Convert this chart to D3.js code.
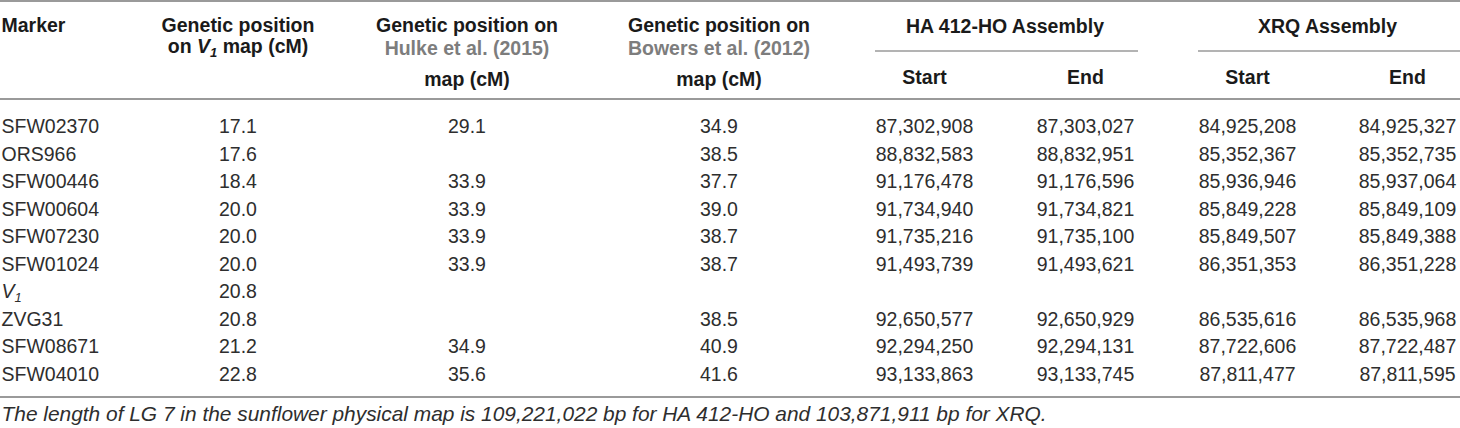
<!DOCTYPE html>
<html>
<head>
<meta charset="utf-8">
<script src="https://cdn.jsdelivr.net/npm/d3@7"></script>
<style>
  html, body { margin: 0; padding: 0; background: #ffffff; }
  svg { display: block; }
  text { font-family: "Liberation Sans", Arial, Helvetica, sans-serif; }
</style>
</head>
<body>
<svg id="chart" width="1460" height="428"></svg>
<script>
// ---- data ----
const markers   = ["SFW02370", "ORS966", "SFW00446", "SFW00604", "SFW07230", "SFW01024", "V1", "ZVG31", "SFW08671", "SFW04010"];
const v1Pos     = [17.1, 17.6, 18.4, 20.0, 20.0, 20.0, 20.8, 20.8, 21.2, 22.8];
const hulkePos  = [29.1, null, 33.9, 33.9, 33.9, 33.9, null, null, 34.9, 35.6];
const bowersPos = [34.9, 38.5, 37.7, 39.0, 38.7, 38.7, null, 38.5, 40.9, 41.6];
const haStart   = [87302908, 88832583, 91176478, 91734940, 91735216, 91493739, null, 92650577, 92294250, 93133863];
const haEnd     = [87303027, 88832951, 91176596, 91734821, 91735100, 91493621, null, 92650929, 92294131, 93133745];
const xrqStart  = [84925208, 85352367, 85936946, 85849228, 85849507, 86351353, null, 86535616, 87722606, 87811477];
const xrqEnd    = [84925327, 85352735, 85937064, 85849109, 85849388, 86351228, null, 86535968, 87722487, 87811595];
const groupHeaders = ["HA 412-HO Assembly", "XRQ Assembly"];
const subHeaders   = ["Start", "End", "Start", "End"];
const footnote = "The length of LG 7 in the sunflower physical map is 109,221,022 bp for HA 412-HO and 103,871,911 bp for XRQ.";

// ---- layout ----
const svg = d3.select("#chart");
const W = 1460;
const colKeys = ["v1", "hulke", "bowers", "haS", "haE", "xrqS", "xrqE"];
const colX = d3.scaleOrdinal().domain(colKeys).range([238, 467, 719, 924.5, 1085.5, 1247.5, 1407.5]);
const rowY = d3.scaleLinear().domain([0, markers.length - 1]).range([133.3, 381]);

const bodyColor = "#2e2e2e";
const headColor = "#1a1a1a";
const greyLink = "#7d7d7d";
const ruleColor = "#9a9a9a";
const fsBody = 19.5, fsHead = 19.5;

const fmtCM = d3.format(".1f");
const fmtBP = d3.format(",");

// body rules: top, below header, below last row
const lastRowY = rowY(markers.length - 1);
const rules = [1, 99, lastRowY + 16];
svg.append("g").attr("class", "rules")
  .selectAll("line").data(rules).join("line")
  .attr("x1", 0).attr("x2", W)
  .attr("y1", d => d).attr("y2", d => d)
  .attr("stroke", ruleColor).attr("stroke-width", 2);

// group underlines (span from start-col left to end-col right)
const groupSpans = [
  {label: groupHeaders[0], a: "haS", b: "haE"},
  {label: groupHeaders[1], a: "xrqS", b: "xrqE"}
];
const halfNum = 49.5;
svg.selectAll("line.group").data(groupSpans).join("line")
  .attr("class", "group")
  .attr("x1", d => colX(d.a) - halfNum)
  .attr("x2", d => Math.min(W, colX(d.b) + halfNum + 3))
  .attr("y1", 51).attr("y2", 51)
  .attr("stroke", ruleColor).attr("stroke-width", 1.5);

svg.selectAll("text.group").data(groupSpans).join("text")
  .attr("class", "group")
  .attr("x", d => (colX(d.a) + colX(d.b)) / 2)
  .attr("y", 33)
  .attr("text-anchor", "middle")
  .attr("font-size", fsHead).attr("font-weight", "bold").attr("fill", headColor)
  .text(d => d.label);

svg.selectAll("text.sub").data(subHeaders).join("text")
  .attr("class", "sub")
  .attr("x", (d, i) => colX(colKeys[3 + i]))
  .attr("y", 83.5)
  .attr("text-anchor", "middle")
  .attr("font-size", fsHead).attr("font-weight", "bold").attr("fill", headColor)
  .text(d => d);

// Marker header
svg.append("text")
  .attr("x", 1.5).attr("y", 32)
  .attr("font-size", fsHead).attr("font-weight", "bold").attr("fill", headColor)
  .text("Marker");

// V1 header
const h1 = svg.append("text")
  .attr("x", colX("v1")).attr("text-anchor", "middle")
  .attr("font-size", fsHead).attr("font-weight", "bold").attr("fill", headColor);
h1.append("tspan").attr("x", colX("v1")).attr("y", 32).text("Genetic position");
const l2 = h1.append("tspan").attr("x", colX("v1")).attr("y", 53);
l2.append("tspan").text("on ");
l2.append("tspan").attr("font-style", "italic").text("V");
l2.append("tspan").attr("font-style", "italic").attr("font-size", 13).attr("dy", 4).text("1");
l2.append("tspan").attr("dy", -4).text(" map (cM)");

// Hulke / Bowers headers
const refHeads = [
  {key: "hulke", ref: "Hulke et al. (2015)"},
  {key: "bowers", ref: "Bowers et al. (2012)"}
];
refHeads.forEach(r => {
  const t = svg.append("text")
    .attr("text-anchor", "middle")
    .attr("font-size", fsHead).attr("font-weight", "bold").attr("fill", headColor);
  t.append("tspan").attr("x", colX(r.key)).attr("y", 32).text("Genetic position on");
  t.append("tspan").attr("x", colX(r.key)).attr("y", 55).attr("fill", greyLink).text(r.ref);
  t.append("tspan").attr("x", colX(r.key)).attr("y", 86).text("map (cM)");
});

// body: marker names
const mk = svg.selectAll("text.marker").data(markers).join("text")
  .attr("class", "marker")
  .attr("x", 1.5).attr("y", (d, i) => rowY(i))
  .attr("font-size", fsBody).attr("fill", bodyColor);
mk.each(function(d) {
  const s = d3.select(this);
  if (d === "V1") {
    s.append("tspan").attr("font-style", "italic").text("V");
    s.append("tspan").attr("font-style", "italic").attr("font-size", 13).attr("dy", 4).text("1");
  } else {
    s.text(d);
  }
});

// body: value columns
const cols = [
  {key: "v1", vals: v1Pos, fmt: fmtCM},
  {key: "hulke", vals: hulkePos, fmt: fmtCM},
  {key: "bowers", vals: bowersPos, fmt: fmtCM},
  {key: "haS", vals: haStart, fmt: fmtBP},
  {key: "haE", vals: haEnd, fmt: fmtBP},
  {key: "xrqS", vals: xrqStart, fmt: fmtBP},
  {key: "xrqE", vals: xrqEnd, fmt: fmtBP}
];
cols.forEach(c => {
  const cells = c.vals.map((v, i) => ({v, i})).filter(d => d.v !== null);
  svg.selectAll("text.c-" + c.key).data(cells).join("text")
    .attr("class", "c-" + c.key)
    .attr("x", colX(c.key)).attr("y", d => rowY(d.i))
    .attr("text-anchor", "middle")
    .attr("font-size", fsBody).attr("fill", bodyColor)
    .text(d => c.fmt(d.v));
});

// footnote
const fn = svg.append("text")
  .attr("x", 1.5).attr("y", 420.5)
  .attr("font-size", 16).attr("font-style", "italic").attr("fill", bodyColor)
  .text(footnote);
const targetW = 1046;
const curW = fn.node().getComputedTextLength();
if (curW > 0) fn.attr("font-size", 16 * targetW / curW);
</script>
</body>
</html>
